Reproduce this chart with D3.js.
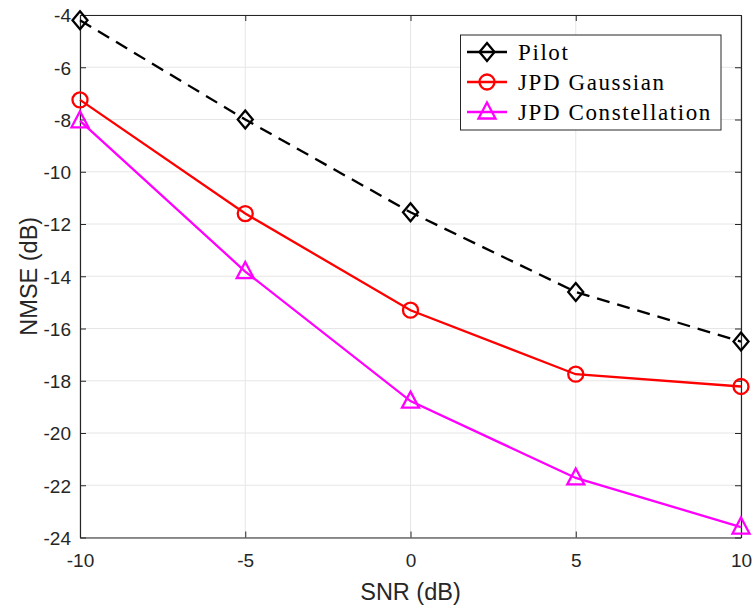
<!DOCTYPE html>
<html>
<head>
<meta charset="utf-8">
<script src="https://cdn.jsdelivr.net/npm/d3@7"></script>
<style>
  html, body { margin: 0; padding: 0; background: #fff; }
  svg { display: block; }
</style>
</head>
<body>
<svg id="chart" width="753" height="609"></svg>
<script>
// SNR sweep (dB) and NMSE results (dB) for each estimator
const snr = [-10, -5, 0, 5, 10];
const pilot = [-4.2, -8.0, -11.55, -14.6, -16.5];
const jpdGaussian = [-7.25, -11.6, -15.3, -17.75, -18.22];
const jpdConstellation = [-8.05, -13.82, -18.78, -21.72, -23.6];
const yTicks = [-24, -22, -20, -18, -16, -14, -12, -10, -8, -6, -4];
const xTicks = [-10, -5, 0, 5, 10];
const seriesNames = ["Pilot", "JPD Gaussian", "JPD Constellation"];

const series = [
  { name: seriesNames[0], values: pilot, color: "#000000", dash: "13,8", marker: "diamond" },
  { name: seriesNames[1], values: jpdGaussian, color: "#ff0000", dash: null, marker: "circle" },
  { name: seriesNames[2], values: jpdConstellation, color: "#ff00ff", dash: null, marker: "triangle" }
];

const svg = d3.select("#chart");
const m = { left: 80, right: 12, top: 15, bottom: 71.5 };
const W = 753, H = 609;
const x = d3.scaleLinear().domain([-10, 10]).range([m.left, W - m.right]);
const y = d3.scaleLinear().domain([-24, -4]).range([H - m.bottom, m.top]);
const axisColor = "#262626";
const fontSans = "'Liberation Sans', Arial, Helvetica, sans-serif";
const plainNum = d => String(d);   // ASCII hyphen for negatives
const lw = 2.3;

// grid
const grid = svg.append("g");
grid.selectAll("line.gx").data(xTicks).join("line")
  .attr("x1", d => x(d)).attr("x2", d => x(d))
  .attr("y1", y(-24)).attr("y2", y(-4))
  .attr("stroke", "#e6e6e6").attr("stroke-width", 1);
grid.selectAll("line.gy").data(yTicks).join("line")
  .attr("y1", d => y(d)).attr("y2", d => y(d))
  .attr("x1", x(-10)).attr("x2", x(10))
  .attr("stroke", "#e6e6e6").attr("stroke-width", 1);

// axes with inward ticks on all four sides
const tickLen = 6;
const axB = svg.append("g").attr("transform", `translate(0,${y(-24)})`)
  .call(d3.axisBottom(x).tickValues(xTicks).tickSizeInner(-tickLen).tickSizeOuter(0).tickPadding(16).tickFormat(plainNum));
const axT = svg.append("g").attr("transform", `translate(0,${y(-4)})`)
  .call(d3.axisTop(x).tickValues(xTicks).tickSizeInner(-tickLen).tickSizeOuter(0).tickFormat(""));
const axL = svg.append("g").attr("transform", `translate(${x(-10)},0)`)
  .call(d3.axisLeft(y).tickValues(yTicks).tickSizeInner(-tickLen).tickSizeOuter(0).tickPadding(9).tickFormat(plainNum));
const axR = svg.append("g").attr("transform", `translate(${x(10)},0)`)
  .call(d3.axisRight(y).tickValues(yTicks).tickSizeInner(-tickLen).tickSizeOuter(0).tickFormat(""));
[axB, axT, axL, axR].forEach(g => {
  g.select(".domain").attr("stroke", axisColor).attr("stroke-width", 1.2);
  g.selectAll(".tick line").attr("stroke", axisColor).attr("stroke-width", 1);
  g.selectAll("text").attr("fill", axisColor).style("font-family", fontSans).style("font-size", "19px");
});
axB.selectAll("text").attr("dy", "0.69em");
axL.selectAll("text").attr("dy", "0.36em");

// axis titles
svg.append("text").attr("x", (x(-10) + x(10)) / 2).attr("y", 600)
  .attr("text-anchor", "middle").attr("fill", axisColor)
  .style("font-family", fontSans).style("font-size", "23.5px").text("SNR (dB)");
svg.append("text").attr("transform", `translate(37,${(y(-24) + y(-4)) / 2}) rotate(-90)`)
  .attr("text-anchor", "middle").attr("fill", axisColor)
  .style("font-family", fontSans).style("font-size", "23.5px").text("NMSE (dB)");

// marker drawing
function drawMarker(g, type, cx, cy, color) {
  if (type === "circle") {
    g.append("circle").attr("cx", cx).attr("cy", cy).attr("r", 7.5)
      .attr("fill", "none").attr("stroke", color).attr("stroke-width", lw);
  } else if (type === "diamond") {
    const w = 7.5, h = 9;
    g.append("path").attr("d", `M${cx},${cy - h}L${cx + w},${cy}L${cx},${cy + h}L${cx - w},${cy}Z`)
      .attr("fill", "none").attr("stroke", color).attr("stroke-width", lw).attr("stroke-linejoin", "miter");
  } else if (type === "triangle") {
    const w = 8.5, top = 9.5, bot = 6.5;
    g.append("path").attr("d", `M${cx},${cy - top}L${cx + w},${cy + bot}L${cx - w},${cy + bot}Z`)
      .attr("fill", "none").attr("stroke", color).attr("stroke-width", lw).attr("stroke-linejoin", "miter");
  }
}

const line = d3.line().x((d, i) => x(snr[i])).y(d => y(d));
const plotG = svg.append("g");
series.forEach(s => {
  plotG.append("path").datum(s.values).attr("d", line)
    .attr("fill", "none").attr("stroke", s.color).attr("stroke-width", lw)
    .attr("stroke-dasharray", s.dash);
  s.values.forEach((v, i) => drawMarker(plotG, s.marker, x(snr[i]), y(v), s.color));
});

// legend
const lg = svg.append("g");
lg.append("rect").attr("x", 460.5).attr("y", 35).attr("width", 260.5).attr("height", 95)
  .attr("fill", "#fff").attr("stroke", axisColor).attr("stroke-width", 1);
series.forEach((s, i) => {
  const cy = 52 + i * 30;
  lg.append("line").attr("x1", 467).attr("x2", 507).attr("y1", cy).attr("y2", cy)
    .attr("stroke", s.color).attr("stroke-width", lw);
  drawMarker(lg, s.marker, 487, cy, s.color);
  lg.append("text").attr("x", 518).attr("y", cy).attr("dy", "0.33em")
    .attr("fill", "#000").style("font-family", "'Liberation Serif', 'DejaVu Serif', serif")
    .style("font-size", "23px").style("letter-spacing", "1.6px").text(s.name);
});
</script>
</body>
</html>
